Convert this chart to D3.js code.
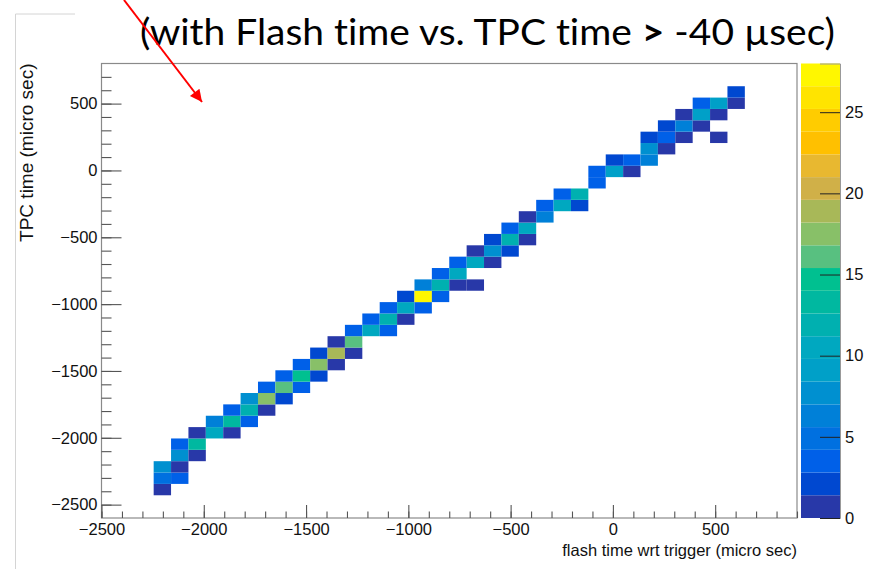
<!DOCTYPE html>
<html>
<head>
<meta charset="utf-8">
<script src="https://cdn.jsdelivr.net/npm/d3@7"></script>
<style>
  body { margin: 0; background: #fff; }
  text { font-family: 'Liberation Sans', Arial, sans-serif; }
</style>
</head>
<body>
<div id="container"></div>
<script>
const canvasWidth = 871;
const canvasHeight = 569;

// histogram binning (TH2: 40 x 40 bins)
const xMin = -2500, xMax = 900, nBinsX = 40;
const yMin = -2600, yMax = 800, nBinsY = 40;
const zMax = 28;

const xTicks = [-2500, -2000, -1500, -1000, -500, 0, 500];
const yTicks = [-2500, -2000, -1500, -1000, -500, 0, 500];
const zTicks = [0, 5, 10, 15, 20, 25];

// [flash bin, tpc bin, entries]
const cells = [
  [3,2,1],
  [3,3,5],[4,3,3],
  [3,4,7],[4,4,1],
  [4,5,7],[5,5,1],
  [4,6,3],[5,6,13],
  [5,7,1],[6,7,10],[7,7,1],
  [6,8,6],[7,8,13],[8,8,3],
  [7,9,3],[8,9,12],[9,9,1],
  [8,10,7],[9,10,17],[10,10,2],
  [9,11,3],[10,11,16],[11,11,3],
  [10,12,3],[11,12,14],[12,12,2],
  [11,13,3],[12,13,17],[13,13,1],
  [12,14,2],[13,14,19],[14,14,1],
  [13,15,1],[14,15,16],
  [14,16,3],[15,16,10],[16,16,3],
  [15,17,3],[16,17,12],[17,17,1],
  [16,18,3],[17,18,10],[18,18,3],
  [17,19,2],[18,19,28],[19,19,3],
  [18,20,6],[19,20,12],[20,20,1],[21,20,1],
  [19,21,3],[20,21,10],
  [20,22,3],[21,22,10],[22,22,1],
  [21,23,1],[22,23,7],[23,23,2],
  [22,24,2],[23,24,12],[24,24,1],
  [23,25,3],[24,25,10],
  [24,26,1],[25,26,6],
  [25,27,3],[26,27,10],[27,27,2],
  [26,28,3],[27,28,12],
  [28,29,3],
  [28,30,3],[29,30,9],[30,30,1],
  [29,31,2],[30,31,3],[31,31,6],
  [31,32,8],[32,32,1],
  [31,33,2],[32,33,3],[33,33,1],[35,33,1],
  [32,34,2],[33,34,6],[34,34,1],
  [33,35,1],[34,35,9],[35,35,1],
  [34,36,3],[35,36,9],[36,36,1],
  [36,37,2]
];

// 20 contour colours (bird-like palette as it looks in the picture)
const bandColors = ['#2838a8','#0048d0','#0060e8','#0070e0','#0080d8','#0090d0','#00a0c8','#00a8c0',
  '#00b0b0','#00b8a0','#00c090','#58c080','#88c068','#a8b858','#d0b048','#e8b830',
  '#ffc000','#ffcc00','#ffe400','#fff700'];

let frameL = 101.5, frameR = 797, frameT = 63.5, frameB = 518;

let svg = d3.select('#container')
  .append('svg')
  .attr('width', canvasWidth)
  .attr('height', canvasHeight)
  .style('display', 'block');

let x = d3.scaleLinear().domain([xMin, xMax]).range([frameL, frameR]);
let y = d3.scaleLinear().domain([yMin, yMax]).range([frameB, frameT]);
let z = d3.scaleQuantize().domain([0, zMax]).range(bandColors);
let zBar = d3.scaleLinear().domain([0, zMax]).range([frameB, frameT]);
let fmt = d3.format('d');

let bwX = (xMax - xMin) / nBinsX;
let bwY = (yMax - yMin) / nBinsY;

// slide leftovers: light grey box edge
svg.append('path')
  .attr('d', 'M75,14H15.5V569')
  .attr('fill', 'none')
  .attr('stroke', '#d4d4d4')
  .attr('stroke-width', 1);

// cells
svg.append('g')
  .selectAll('rect')
  .data(cells)
  .enter()
  .append('rect')
  .attr('x', d => x(xMin + d[0] * bwX))
  .attr('y', d => y(yMin + (d[1] + 1) * bwY))
  .attr('width', d => x(xMin + (d[0] + 1) * bwX) - x(xMin + d[0] * bwX))
  .attr('height', d => y(yMin + d[1] * bwY) - y(yMin + (d[1] + 1) * bwY))
  .attr('fill', d => z(d[2]));

// frame
svg.append('rect')
  .attr('x', frameL).attr('y', frameT)
  .attr('width', frameR - frameL).attr('height', frameB - frameT)
  .attr('fill', 'none')
  .attr('stroke', '#8a8a8a')
  .attr('stroke-width', 1.2);

// x axis
let xMinor = d3.range(xMin, xMax + 1, 100);
svg.append('g')
  .attr('transform', 'translate(0,' + frameB + ')')
  .call(d3.axisBottom(x).tickValues(xMinor).tickSize(-6.5).tickFormat(''))
  .call(g => g.select('.domain').remove());
let xAxis = svg.append('g')
  .attr('class', 'axis')
  .attr('transform', 'translate(0,' + frameB + ')')
  .call(d3.axisBottom(x).tickValues(xTicks).tickSize(-13).tickPadding(5).tickFormat(fmt));
xAxis.select('.domain').remove();

// y axis
let yMinor = d3.range(-2500, 701, 100);
svg.append('g')
  .attr('transform', 'translate(' + frameL + ',0)')
  .call(d3.axisLeft(y).tickValues(yMinor).tickSize(-10).tickFormat(''))
  .call(g => g.select('.domain').remove());
let yAxis = svg.append('g')
  .attr('class', 'axis')
  .attr('transform', 'translate(' + frameL + ',0)')
  .call(d3.axisLeft(y).tickValues(yTicks).tickSize(-20).tickPadding(4).tickFormat(fmt));
yAxis.select('.domain').remove();

svg.selectAll('.tick line').attr('stroke', '#555').attr('stroke-width', 1.1);
svg.selectAll('.axis text')
  .attr('fill', '#111')
  .style('font-size', '16.5px');

// axis titles
svg.append('text')
  .attr('x', frameR)
  .attr('y', 556)
  .attr('text-anchor', 'end')
  .style('font-size', '16.5px')
  .attr('fill', '#111')
  .text('flash time wrt trigger (micro sec)');

svg.append('text')
  .attr('transform', 'translate(33,' + frameT + ') rotate(-90)')
  .attr('text-anchor', 'end')
  .style('font-size', '19px')
  .attr('fill', '#111')
  .text('TPC time (micro sec)');

// colour bar
let levels = [0].concat(z.thresholds(), [zMax]);
let barX = 801, barW = 39;
svg.append('g')
  .selectAll('rect')
  .data(bandColors)
  .enter()
  .append('rect')
  .attr('x', barX)
  .attr('y', (d, i) => zBar(levels[i + 1]))
  .attr('width', barW)
  .attr('height', (d, i) => zBar(levels[i]) - zBar(levels[i + 1]))
  .attr('fill', d => d);

let zAxis = svg.append('g')
  .attr('transform', 'translate(' + (barX + barW) + ',0)')
  .call(d3.axisRight(zBar).tickValues(zTicks).tickSize(-20).tickPadding(5));
zAxis.select('.domain').attr('stroke', '#999');
zAxis.selectAll('.tick line').attr('stroke', '#222');
zAxis.selectAll('text').attr('fill', '#111').style('font-size', '16.5px');

// title
let title = svg.append('text')
  .attr('x', 140)
  .attr('y', 45)
  .attr('textLength', 695)
  .attr('lengthAdjust', 'spacingAndGlyphs')
  .style('font-family', 'Lato, "Open Sans", sans-serif')
  .style('font-size', '36px')
  .style('font-variant-ligatures', 'none')
  .attr('fill', '#000');
title.append('tspan').text('(with Flash time vs. TPC time ');
title.append('tspan').style('font-weight', 'bold').text('>');
title.append('tspan').text(' -40 \u00b5sec)');

// red arrow
svg.append('defs').append('marker')
  .attr('id', 'head')
  .attr('viewBox', '0 0 10 10')
  .attr('refX', 10).attr('refY', 5)
  .attr('markerWidth', 7).attr('markerHeight', 6)
  .attr('markerUnits', 'strokeWidth')
  .attr('orient', 'auto')
  .append('path')
  .attr('d', 'M0,0L10,5L0,10Z')
  .attr('fill', '#ff0000');

svg.append('line')
  .attr('x1', 124).attr('y1', 0)
  .attr('x2', 202).attr('y2', 102)
  .attr('stroke', '#ff0000')
  .attr('stroke-width', 2)
  .attr('marker-end', 'url(#head)');
</script>
</body>
</html>
